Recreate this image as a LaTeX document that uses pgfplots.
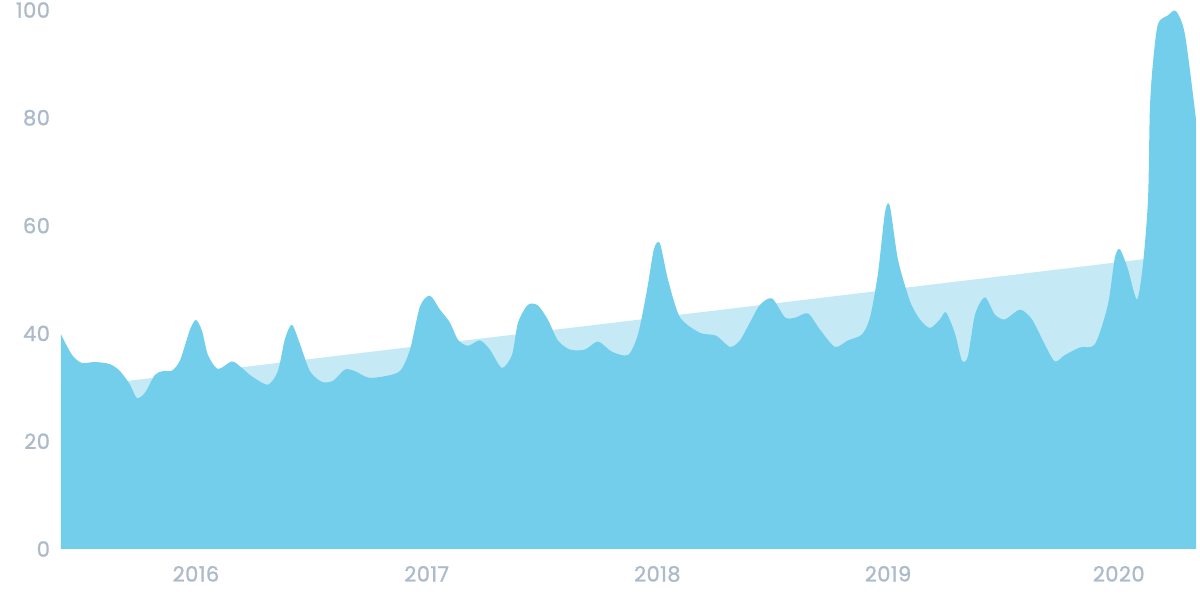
\documentclass[border=0pt]{standalone}
\usepackage{fontspec}
\setmainfont{Poppins}
\newfontfamily\labfont{Poppins}[FakeBold=1.2, LetterSpace=2]
\usepackage{pgfplots}
\pgfplotsset{compat=1.18}
\definecolor{mainblue}{HTML}{72CEEA}
\definecolor{trendblue}{HTML}{C5EAF6}
\definecolor{labelgrey}{HTML}{ADBACA}
\begin{document}
\begin{tikzpicture}
\useasboundingbox (0,0) rectangle (600pt,300pt);
\begin{axis}[
  at={(30.5pt,25.5pt)}, anchor=south west,
  scale only axis, width=567.5pt, height=269.5pt,
  xmin=2015.415, xmax=2020.335, ymin=0, ymax=100,
  axis line style={draw=none}, tick style={draw=none},
  xtick={2016,2017,2018,2019,2020},
  ytick={0,20,40,60,80,100},
  xticklabel style={font=\labfont\fontsize{10.5}{11}\selectfont, text=labelgrey, yshift=-5pt},
  yticklabel style={font=\labfont\fontsize{10.5}{11}\selectfont, text=labelgrey, xshift=-2pt},
  /pgf/number format/assume math mode=true,
  /pgf/number format/1000 sep={},
  clip=false,
]
% trend area
\addplot[fill=trendblue, draw=none] coordinates {
(2015.415,0) (2015.415,29.7) (2020.113,53.8) (2020.113,0)} \closedcycle;
% main series
\addplot[fill=mainblue, draw=none, smooth, tension=0.45] coordinates {
(2015.415,39.8) (2015.463,36.0) (2015.506,34.5) (2015.562,34.7) (2015.627,34.3)
(2015.671,33.0) (2015.714,30.5) (2015.744,28.0) (2015.779,29.0) (2015.822,32.3)
(2015.857,33.0) (2015.896,33.1) (2015.931,35.0) (2015.974,40.7) (2016.000,42.5)
(2016.026,40.5) (2016.052,36.0) (2016.095,33.4) (2016.156,34.8) (2016.199,33.6)
(2016.243,32.0) (2016.312,30.5) (2016.355,33.0) (2016.386,39.0) (2016.416,41.6)
(2016.451,38.0) (2016.494,33.0) (2016.546,31.0) (2016.594,31.2) (2016.646,33.3)
(2016.689,33.0) (2016.746,31.8) (2016.811,32.0) (2016.884,33.0) (2016.928,37.0)
(2016.971,45.0) (2017.014,47.0) (2017.058,44.4) (2017.101,42.0) (2017.136,38.8)
(2017.179,37.7) (2017.231,38.7) (2017.274,37.0) (2017.326,33.6) (2017.370,36.0)
(2017.396,42.0) (2017.439,45.3) (2017.482,45.2) (2017.526,42.5) (2017.569,38.7)
(2017.621,37.0) (2017.686,37.0) (2017.743,38.5) (2017.803,36.6) (2017.873,36.0)
(2017.916,39.8) (2017.955,48.0) (2017.985,55.6) (2018.011,56.7) (2018.046,50.0)
(2018.098,43.0) (2018.185,40.1) (2018.254,39.6) (2018.315,37.5) (2018.358,38.7)
(2018.401,42.0) (2018.445,45.3) (2018.497,46.5) (2018.553,43.0) (2018.596,42.9)
(2018.653,43.7) (2018.705,40.7) (2018.770,37.5) (2018.826,38.7) (2018.887,39.8)
(2018.922,43.0) (2018.956,51.0) (2018.987,62.5) (2019.008,63.6) (2019.043,53.7)
(2019.095,46.0) (2019.138,42.6) (2019.182,41.0) (2019.225,42.6) (2019.251,43.9)
(2019.290,40.0) (2019.320,35.0) (2019.346,35.7) (2019.377,43.5) (2019.420,46.7)
(2019.463,43.5) (2019.507,42.6) (2019.572,44.4) (2019.624,42.6) (2019.680,37.9)
(2019.723,34.8) (2019.767,36.0) (2019.832,37.4) (2019.897,38.0) (2019.953,45.3)
(2019.983,54.0) (2020.005,55.6) (2020.040,51.9) (2020.079,46.3) (2020.105,52.8)
(2020.127,64.9) (2020.135,81.6) (2020.148,90.0) (2020.170,97.4) (2020.213,99.0)
(2020.248,99.8) (2020.287,95.5) (2020.335,79.7)
} \closedcycle;
\end{axis}
\end{tikzpicture}
\end{document}
